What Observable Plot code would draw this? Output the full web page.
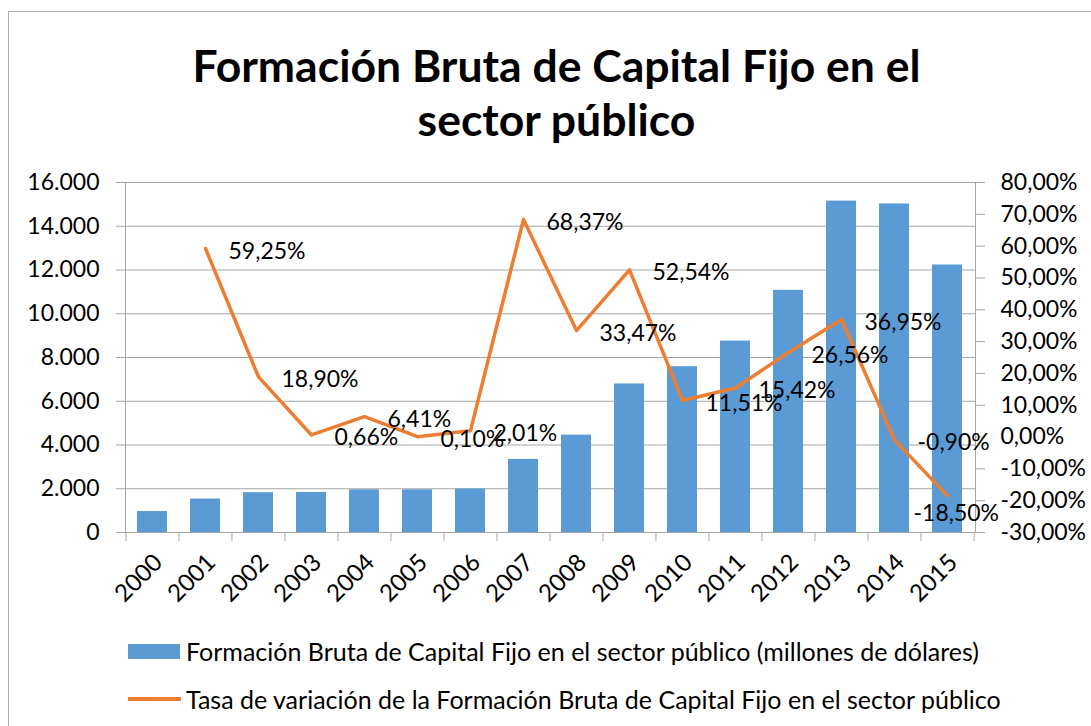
<!DOCTYPE html>
<html>
<head>
<meta charset="utf-8">
<script src="https://cdn.jsdelivr.net/npm/d3@7"></script>
<script src="https://cdn.jsdelivr.net/npm/@observablehq/plot@0.6"></script>
<style>
html, body { margin: 0; padding: 0; background: #fff; }
body { width: 1091px; height: 726px; position: relative; overflow: hidden; font-family: Lato, "Open Sans", sans-serif; color: #000; }
#border { position: absolute; left: 8px; top: 11px; width: 1200px; height: 900px; border: 1px solid #b0b0b0; box-sizing: border-box; }
#title { position: absolute; left: 0; top: 38px; width: 1113px; text-align: center; font-weight: 700; font-size: 44.5px; line-height: 54px; }
#chart { position: absolute; left: 0; top: 150px; }
.leg { position: absolute; left: 128px; height: 30px; display: flex; align-items: center; font-size: 25px; white-space: nowrap; }
.sw-bar { width: 52px; height: 15px; background: #5b9bd5; margin-right: 6px; }
.sw-line { width: 53px; height: 3.5px; background: #ed7d31; margin-right: 5px; }
</style>
</head>
<body>
<div id="border"></div>
<div id="title">Formación Bruta de Capital Fijo en el<br>sector público</div>
<div id="chart"></div>
<div class="leg" style="top:636px"><span class="sw-bar"></span><span>Formación Bruta de Capital Fijo en el sector público (millones de dólares)</span></div>
<div class="leg" style="top:684px"><span class="sw-line"></span><span>Tasa de variación de la Formación Bruta de Capital Fijo en el sector público</span></div>
<script>
// ---- data ----
const years = ["2000","2001","2002","2003","2004","2005","2006","2007","2008","2009","2010","2011","2012","2013","2014","2015"];
const fbkfValues = [960, 1530, 1820, 1830, 1950, 1950, 1990, 3340, 4450, 6790, 7580, 8750, 11070, 15150, 15020, 12230];
const rateYears = ["2001","2002","2003","2004","2005","2006","2007","2008","2009","2010","2011","2012","2013","2014","2015"];
const rateValues = [59.25, 18.90, 0.66, 6.41, 0.10, 2.01, 68.37, 33.47, 52.54, 11.51, 15.42, 26.56, 36.95, -0.90, -18.50];
const rateLabels = ["59,25%","18,90%","0,66%","6,41%","0,10%","2,01%","68,37%","33,47%","52,54%","11,51%","15,42%","26,56%","36,95%","-0,90%","-18,50%"];
const yTicks = [0, 2000, 4000, 6000, 8000, 10000, 12000, 14000, 16000];
const yTickLabels = ["0","2.000","4.000","6.000","8.000","10.000","12.000","14.000","16.000"];
const pctTicks = [-30, -20, -10, 0, 10, 20, 30, 40, 50, 60, 70, 80];
const pctTickLabels = ["-30,00%","-20,00%","-10,00%","0,00%","10,00%","20,00%","30,00%","40,00%","50,00%","60,00%","70,00%","80,00%"];

// ---- tables ----
const bars = years.map((y, i) => ({year: y, value: fbkfValues[i]}));
const rates = rateYears.map((y, i) => ({year: y, rate: rateValues[i], label: rateLabels[i]}));
const ratesRight = rates.slice(0, -1);   // labels placed to the right of the point
const ratesBelow = rates.slice(-1);      // last label placed below the point

// secondary axis: percent domain mapped onto the primary y domain
const pctToY = d3.scaleLinear([-30, 80], [0, 16000]);
const pctTickY = pctTicks.map(pctToY);

const W = 1091, H = 460, mL = 125, mR = 116, mT = 32, mB = 78;
const bw = (W - mL - mR) / years.length;
const grid = "#a6a6a6";

const chart = Plot.plot({
  width: W, height: H,
  marginLeft: mL, marginRight: mR, marginTop: mT, marginBottom: mB,
  style: {fontFamily: "Lato, 'Open Sans', sans-serif", fontSize: "23px", color: "#000", background: "transparent", overflow: "visible"},
  x: {type: "band", domain: years, paddingInner: 0.43, paddingOuter: 0.215, axis: null},
  y: {domain: [0, 16000], axis: null},
  marks: [
    Plot.ruleY(yTicks, {y: d => d, stroke: grid, strokeWidth: 1}),
    Plot.barY(bars, {x: "year", y: "value", fill: "#5b9bd5"}),
    Plot.frame({stroke: grid}),
    Plot.ruleX(years, {x: d => d, y1: 0, y2: 0, insetBottom: -9, dx: -bw / 2, stroke: grid}),
    Plot.ruleX([years[years.length - 1]], {x: d => d, y1: 0, y2: 0, insetBottom: -9, dx: bw / 2, stroke: grid}),
    Plot.axisY(yTicks, {anchor: "left", tickSize: 9, tickPadding: 17, stroke: grid, fill: "#000", label: null,
      tickFormat: d => yTickLabels[yTicks.indexOf(d)]}),
    Plot.axisY(pctTickY, {anchor: "right", tickSize: 9, tickPadding: 16, stroke: grid, fill: "#000", label: null,
      tickFormat: d => pctTickLabels[pctTickY.indexOf(d)]}),
    Plot.axisX({tickRotate: -45, tickSize: 0, tickPadding: 26, dx: 6, label: null, fill: "#000", fontSize: 24}),
    Plot.line(rates, {x: "year", y: d => pctToY(d.rate), stroke: "#ed7d31", strokeWidth: 3.5, strokeLinejoin: "round"}),
    Plot.text(ratesRight, {x: "year", y: d => pctToY(d.rate), text: "label", textAnchor: "start", dx: 23, dy: 3, fill: "#000", fontSize: 23}),
    Plot.text(ratesBelow, {x: "year", y: d => pctToY(d.rate), text: "label", textAnchor: "start", dx: -34, dy: 18, fill: "#000", fontSize: 23})
  ]
});
document.getElementById("chart").appendChild(chart);
</script>
</body>
</html>
